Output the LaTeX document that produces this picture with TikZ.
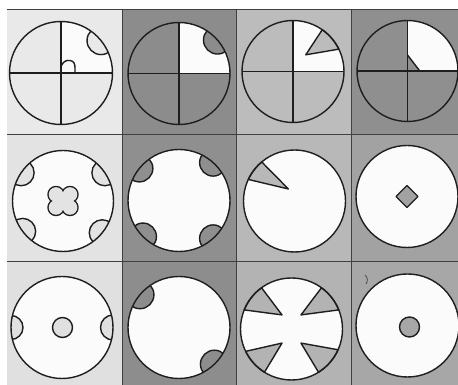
\documentclass[tikz,border=0pt]{standalone}
\usetikzlibrary{calc}
\definecolor{bgaa}{HTML}{E9E9E9}
\definecolor{bgba}{HTML}{8C8C8C}
\definecolor{bgca}{HTML}{BCBCBC}
\definecolor{bgda}{HTML}{8F8F8F}
\definecolor{bgab}{HTML}{E3E3E3}
\definecolor{bgbb}{HTML}{8F8F8F}
\definecolor{bgcb}{HTML}{B8B8B8}
\definecolor{bgdb}{HTML}{A2A2A2}
\definecolor{bgac}{HTML}{E0E0E0}
\definecolor{bgbc}{HTML}{8D8D8D}
\definecolor{bgcc}{HTML}{B3B3B3}
\definecolor{bgdc}{HTML}{A7A7A7}
\definecolor{inkc}{HTML}{1E1E1E}
\definecolor{paper}{HTML}{FBFBFB}
% bump: center, R, angle, bump radius, fill
\newcommand\dbump[5]{%
  \begin{scope}
    \clip (#1) circle (#2);
    \filldraw[ink, fill=#5] ($(#1)+(#3:#2)$) circle (#4);
  \end{scope}}
% wedge: center, R, tip angle, tip dist, arc start, arc end, fill
\newcommand\dwedge[7]{%
  \filldraw[ink, fill=#7, line join=round] ($(#1)+(#3:#4)$) -- ($(#1)+(#5:#2)$)
    arc[start angle=#5, end angle=#6, radius=#2] -- cycle;}
\begin{document}
\begin{tikzpicture}[x=1pt,y=1pt,
  ink/.style={draw=inkc, line width=1.4pt},
  gridline/.style={draw=inkc!85, line width=1pt}]
\useasboundingbox (0,0) rectangle (458,385);
\fill[white] (0,0) rectangle (458,385);
% cell backgrounds
\fill[bgaa] (7,250) rectangle (122,375);
\fill[bgba] (122,250) rectangle (236,375);
\fill[bgca] (236,250) rectangle (351,375);
\fill[bgda] (351,250) rectangle (458,375);
\fill[bgab] (7,123) rectangle (122,250);
\fill[bgbb] (122,123) rectangle (236,250);
\fill[bgcb] (236,123) rectangle (351,250);
\fill[bgdb] (351,123) rectangle (458,250);
\fill[bgac] (7,0) rectangle (122,123);
\fill[bgbc] (122,0) rectangle (236,123);
\fill[bgcc] (236,0) rectangle (351,123);
\fill[bgdc] (351,0) rectangle (458,123);
% grid lines
\draw[gridline] (7,375) -- (458,375);
\draw[gridline] (7,250) -- (458,250);
\draw[gridline] (7,123) -- (458,123);
\draw[gridline] (122,0) -- (122,375);
\draw[gridline] (236,0) -- (236,375);
\draw[gridline] (351,0) -- (351,375);
% centers
\coordinate (caa) at (61,312);
\coordinate (cba) at (179,311.5);
\coordinate (cca) at (293,313.5);
\coordinate (cda) at (407.5,314);
\coordinate (cab) at (63,184);
\coordinate (cbb) at (179,184.5);
\coordinate (ccb) at (294.5,184);
\coordinate (cdb) at (407,188.5);
\coordinate (cac) at (62,57.5);
\coordinate (cbc) at (179,57.5);
\coordinate (ccc) at (291.5,56);
\coordinate (cdc) at (407.5,59.5);

% ---- row 1 ----
% cell a1
\fill[paper] (caa) -- ($(caa)+(90:51.5)$) arc[start angle=90,end angle=0,radius=51.5] -- cycle;
\dbump{caa}{51.5}{39}{14}{bgaa}
\draw[ink] (caa) circle (51.5);
\draw[ink] ($(caa)+(-51.5,0)$) -- ($(caa)+(51.5,0)$);
\draw[ink] ($(caa)+(0,-51.5)$) -- ($(caa)+(0,51.5)$);
\begin{scope}[shift={(caa)}]
  \draw[ink] (0,6.5) .. controls (2,12) and (6,13) .. (9,12.5) .. controls (13,12) and (14,9) .. (14,5) -- (14,0);
\end{scope}
% cell b1
\fill[paper] (cba) -- ($(cba)+(90:51)$) arc[start angle=90,end angle=0,radius=51] -- cycle;
\dbump{cba}{51}{41}{14}{bgba}
\draw[ink] (cba) circle (51);
\draw[ink] ($(cba)+(-51,0)$) -- ($(cba)+(51,0)$);
\draw[ink] ($(cba)+(0,-51)$) -- ($(cba)+(0,51)$);
% cell c1
\fill[paper] (cca) -- ($(cca)+(90:51)$) arc[start angle=90,end angle=0,radius=51] -- cycle;
\dwedge{cca}{51}{52.6}{21}{55}{26}{bgca}
\draw[ink] (cca) circle (51);
\draw[ink] ($(cca)+(-51,0)$) -- ($(cca)+(51,0)$);
\draw[ink] ($(cca)+(0,-51)$) -- ($(cca)+(0,51)$);
% cell d1
\fill[paper] ($(cda)+(0,16)$) -- ($(cda)+(90:50.5)$) arc[start angle=90,end angle=0,radius=50.5] -- ($(cda)+(12.3,0)$) -- cycle;
\draw[ink] (cda) circle (50.5);
\draw[ink] ($(cda)+(-50.5,0)$) -- ($(cda)+(50.5,0)$);
\draw[ink] ($(cda)+(0,-50.5)$) -- ($(cda)+(0,50.5)$);
\draw[ink] ($(cda)+(0,16)$) -- ($(cda)+(12.3,0)$);

% ---- row 2 ----
% cell a2
\fill[paper] (cab) circle (50.5);
\dbump{cab}{50.5}{34}{13}{bgab}
\dbump{cab}{50.5}{146}{13}{bgab}
\dbump{cab}{50.5}{217}{13}{bgab}
\dbump{cab}{50.5}{321}{13}{bgab}
\draw[ink] (cab) circle (50.5);
\begin{scope}[shift={(cab)}]
  \foreach \p in {(7,6.5),(-7,6.5),(7,-6.5),(-7,-6.5)}
    \draw[draw=inkc, line width=2.8pt] \p circle (7.3);
  \foreach \p in {(7,6.5),(-7,6.5),(7,-6.5),(-7,-6.5)}
    \fill[bgab] \p circle (7.3);
  \fill[bgab] (-7,-6.5) rectangle (7,6.5);
\end{scope}
% cell b2
\fill[paper] (cbb) circle (51);
\dbump{cbb}{51}{141}{13.5}{bgbb}
\dbump{cbb}{51}{48}{13.5}{bgbb}
\dbump{cbb}{51}{225}{13.5}{bgbb}
\dbump{cbb}{51}{312}{13.5}{bgbb}
\draw[ink] (cbb) circle (51);
% cell c2
\fill[paper] (ccb) circle (51);
\dwedge{ccb}{51}{117}{13.5}{130}{155}{bgcb}
\draw[ink] (ccb) circle (51);
% cell d2
\fill[paper] (cdb) circle (51);
\filldraw[ink, fill=bgdb, line join=round] ($(cdb)+(0,11)$) -- ($(cdb)+(11,0)$) -- ($(cdb)+(0,-11)$) -- ($(cdb)+(-11,0)$) -- cycle;
\draw[ink] (cdb) circle (51);

% ---- row 3 ----
% cell a3
\fill[paper] (cac) circle (51);
\dbump{cac}{51}{180}{12}{bgac}
\dbump{cac}{51}{0}{12.5}{bgac}
\filldraw[ink, fill=bgac] ($(cac)+(0.5,0)$) circle (10);
\draw[ink] (cac) circle (51);
% cell b3
\fill[paper] (cbc) circle (51);
\dbump{cbc}{51}{140}{14}{bgbc}
\dbump{cbc}{51}{314}{14}{bgbc}
\draw[ink] (cbc) circle (51);
% cell c3
\fill[paper] (ccc) circle (51);
\dwedge{ccc}{51}{56}{17}{54}{22}{bgcc}
\dwedge{ccc}{51}{124}{17}{126}{158}{bgcc}
\dwedge{ccc}{51}{236}{17}{238}{206}{bgcc}
\dwedge{ccc}{51}{304}{17}{302}{336}{bgcc}
\draw[ink] (ccc) circle (51);
% cell d3
\fill[paper] (cdc) circle (51.5);
\filldraw[ink, fill=bgdc] ($(cdc)+(2,-1.5)$) circle (10);
\draw[ink] (cdc) circle (51.5);
\draw[draw=inkc!80, line width=0.8pt] (365,110) .. controls (368,107) and (368,104) .. (366,101);
\end{tikzpicture}
\end{document}
